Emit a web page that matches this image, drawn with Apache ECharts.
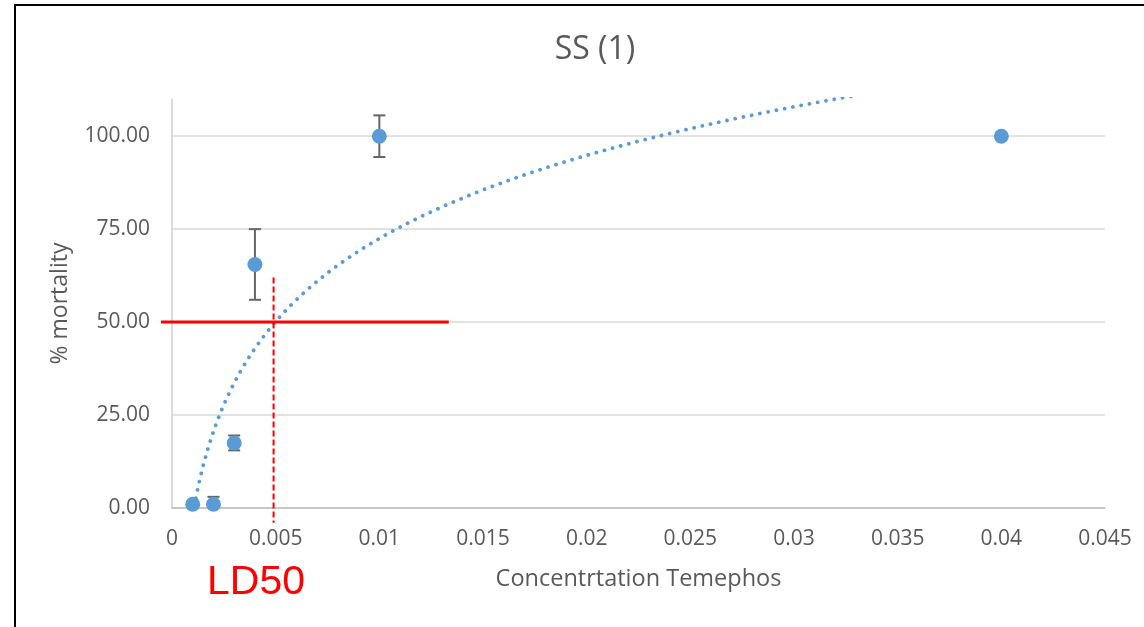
<!DOCTYPE html>
<html>
<head>
<meta charset="utf-8">
<script src="https://cdn.jsdelivr.net/npm/echarts@6/dist/echarts.min.js"></script>
<style>
  html, body { margin: 0; padding: 0; background: #ffffff; }
  #chart { width: 1144px; height: 627px; }
</style>
</head>
<body>
<div id="chart"></div>
<script>
// Bioassay: Temephos concentration vs. % mortality, sample SS (1)
const concentrations = [0.001, 0.002, 0.003, 0.004, 0.01, 0.04];
const mortality      = [1, 1, 17.5, 65.5, 100, 100];
const mortalityErr   = [0, 2, 2, 9.5, 5.6, 0];

const yTicks = [0, 25, 50, 75, 100];

// LD50 guide lines (data units)
const ld50X = 0.0049;
const ld50Level = 50;
const ld50HSpan = [-0.00053, 0.01335];
const ld50VSpan = [-4, 62];

// Logarithmic least-squares trend: y = a*ln(x) + b
function logFit(xs, ys) {
  const lx = xs.map(Math.log);
  const n = xs.length;
  const mx = lx.reduce((s, v) => s + v, 0) / n;
  const my = ys.reduce((s, v) => s + v, 0) / n;
  let sxy = 0, sxx = 0;
  for (let i = 0; i < n; i++) {
    sxy += (lx[i] - mx) * (ys[i] - my);
    sxx += (lx[i] - mx) * (lx[i] - mx);
  }
  const a = sxy / sxx;
  return { a: a, b: my - a * mx };
}
const fit = logFit(concentrations, mortality);
const trend = [];
{
  const x0 = concentrations[0], x1 = concentrations[concentrations.length - 1];
  const steps = 400;
  for (let i = 0; i <= steps; i++) {
    const x = x0 + (x1 - x0) * i / steps;
    trend.push([x, fit.a * Math.log(x) + fit.b]);
  }
}

const TEXT = '#595959';
const FONT = '"Open Sans", "Liberation Sans", sans-serif';

const chart = echarts.init(document.getElementById('chart'), null, { renderer: 'canvas' });

chart.setOption({
  animation: false,
  backgroundColor: '#ffffff',
  title: {
    text: 'SS (1)',
    left: 590,
    textAlign: 'center',
    top: 29,
    textStyle: { color: TEXT, fontFamily: FONT, fontSize: 32, fontWeight: 'normal' }
  },
  grid: { left: 172, right: 39, top: 99, bottom: 119, containLabel: false },
  xAxis: {
    type: 'value',
    min: 0,
    max: 0.045,
    interval: 0.005,
    name: 'Concentrtation Temephos',
    nameLocation: 'middle',
    nameGap: 59,
    nameTextStyle: { color: TEXT, fontFamily: FONT, fontSize: 23.5 },
    axisLine: { show: true, onZero: false, lineStyle: { color: '#bfbfbf', width: 1.5 } },
    axisTick: { show: false },
    splitLine: { show: false },
    axisLabel: {
      color: TEXT, fontFamily: FONT, fontSize: 21, margin: 21,
      showMaxLabel: true,
      formatter: v => String(parseFloat(v.toFixed(4)))
    }
  },
  yAxis: {
    type: 'value',
    min: 0,
    max: 110,
    interval: 25,
    name: '% mortality',
    nameLocation: 'middle',
    nameGap: 100,
    nameTextStyle: { color: TEXT, fontFamily: FONT, fontSize: 23 },
    axisLine: { show: true, lineStyle: { color: '#d0d0d0', width: 1.5 } },
    axisTick: { show: false },
    splitLine: { show: true, showMaxLine: false, lineStyle: { color: '#d9d9d9', width: 1.5 } },
    axisLabel: {
      color: TEXT, fontFamily: FONT, fontSize: 21, margin: 22,
      showMaxLabel: false,
      formatter: v => (yTicks.indexOf(v) >= 0 ? v.toFixed(2) : '')
    }
  },
  series: [
    {
      name: 'Trend',
      type: 'line',
      data: trend,
      showSymbol: false,
      clip: true,
      z: 2,
      lineStyle: { color: '#5b9bd5', width: 3.8, type: [0.01, 8.4], cap: 'round' }
    },
    {
      name: 'Error',
      type: 'custom',
      z: 3,
      clip: true,
      data: concentrations.map((x, i) => [x, mortality[i], mortalityErr[i]]),
      renderItem: function (params, api) {
        const x = api.value(0), y = api.value(1), e = api.value(2);
        if (!e) return null;
        const top = api.coord([x, y + e]);
        const bot = api.coord([x, Math.max(0, y - e)]);
        const hw = 6;
        const style = { stroke: '#666666', lineWidth: 2 };
        const children = [
          { type: 'line', shape: { x1: top[0], y1: top[1], x2: bot[0], y2: bot[1] }, style: style },
          { type: 'line', shape: { x1: top[0] - hw, y1: top[1], x2: top[0] + hw, y2: top[1] }, style: style }
        ];
        if (y - e >= 0) {
          children.push({ type: 'line', shape: { x1: bot[0] - hw, y1: bot[1], x2: bot[0] + hw, y2: bot[1] }, style: style });
        }
        return { type: 'group', children: children };
      }
    },
    {
      name: 'Mortality',
      type: 'scatter',
      z: 4,
      data: concentrations.map((x, i) => [x, mortality[i]]),
      symbol: 'circle',
      symbolSize: 15,
      itemStyle: { color: '#5b9bd5', opacity: 1 }
    },
    {
      name: 'LD50',
      type: 'custom',
      z: 5,
      clip: false,
      data: [[ld50X, ld50Level]],
      renderItem: function (params, api) {
        const x = api.value(0), lvl = api.value(1);
        const h1 = api.coord([ld50HSpan[0], lvl]);
        const h2 = api.coord([ld50HSpan[1], lvl]);
        const v1 = api.coord([x, ld50VSpan[1]]);
        const v2 = api.coord([x, ld50VSpan[0]]);
        return {
          type: 'group',
          children: [
            { type: 'line', shape: { x1: h1[0], y1: h1[1], x2: h2[0], y2: h2[1] },
              style: { stroke: '#ff0000', lineWidth: 3 } },
            { type: 'line', shape: { x1: v1[0], y1: v1[1], x2: v2[0], y2: v2[1] },
              style: { stroke: '#ff0000', lineWidth: 2, lineDash: [6, 3] } }
          ]
        };
      }
    }
  ],
  graphic: [
    { type: 'line', shape: { x1: 15, y1: 4, x2: 15, y2: 627 }, style: { stroke: '#000000', lineWidth: 2 }, z: 10 },
    { type: 'line', shape: { x1: 14, y1: 5, x2: 1144, y2: 5 }, style: { stroke: '#000000', lineWidth: 2 }, z: 10 },
    {
      type: 'text', left: 207, top: 562, z: 10,
      style: { text: 'LD50', fill: '#ff0000', font: '41px "Liberation Sans", Arial, sans-serif' }
    }
  ]
});
</script>
</body>
</html>
